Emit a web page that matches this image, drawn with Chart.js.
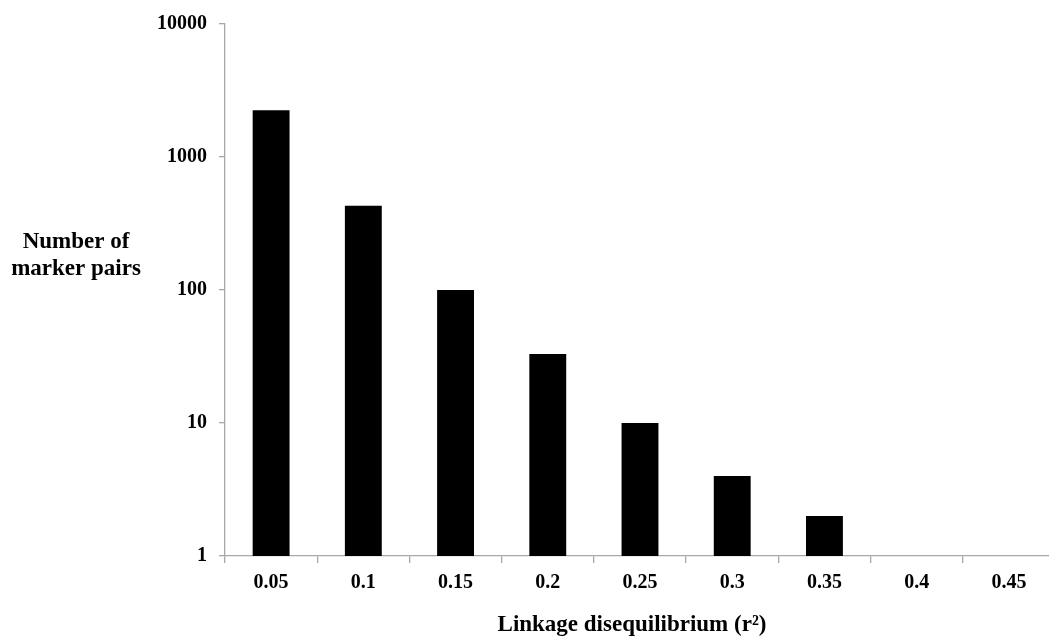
<!DOCTYPE html>
<html>
<head>
<meta charset="utf-8">
<script src="https://cdn.jsdelivr.net/npm/chart.js@4.4.1/dist/chart.umd.min.js"></script>
<style>
  html, body { margin: 0; padding: 0; background: #ffffff; overflow: hidden; }
  #wrap { position: relative; width: 1060px; height: 642px; }
</style>
</head>
<body>
<div id="wrap"><canvas id="chart"></canvas></div>
<script>
// r² bins and the number of marker pairs falling in each bin
const categories = ['0.05', '0.1', '0.15', '0.2', '0.25', '0.3', '0.35', '0.4', '0.45'];
const markerPairs = [2250, 430, 100, 33, 10, 4, 2, null, null];
const yTickValues = [1, 10, 100, 1000, 10000];
const yTitleLines = ['Number of', 'marker pairs'];
const xTitle = 'Linkage disequilibrium (r\u00B2)';

const FONT = '"Liberation Serif", "Times New Roman", serif';
const AXIS_GREY = '#a8a8a8';

// Horizontal y-axis caption on the left and the x-axis caption below
const captions = {
  id: 'captions',
  afterDraw(chart) {
    const ctx = chart.ctx;
    ctx.save();
    ctx.fillStyle = '#000000';
    ctx.font = 'bold 23px ' + FONT;
    ctx.textAlign = 'center';
    ctx.textBaseline = 'alphabetic';
    const yMid = chart.scales.y.getPixelForValue(100);
    ctx.fillText(yTitleLines[0], 76, yMid - 42);
    ctx.fillText(yTitleLines[1], 76, yMid - 15);
    ctx.fillText(xTitle, 632, 631);
    ctx.restore();
  }
};

new Chart(document.getElementById('chart'), {
  type: 'bar',
  data: {
    labels: categories,
    datasets: [{
      data: markerPairs,
      backgroundColor: '#000000',
      borderColor: '#000000',
      borderWidth: 0,
      barPercentage: 0.4,
      categoryPercentage: 1.0
    }]
  },
  options: {
    responsive: true,
    maintainAspectRatio: false,
    animation: false,
    events: [],
    layout: { padding: { top: 20, right: 5, left: 0, bottom: 0 } },
    plugins: {
      legend: { display: false },
      tooltip: { enabled: false },
      title: { display: false }
    },
    scales: {
      x: {
        offset: true,
        grid: {
          display: true,
          offset: true,
          drawOnChartArea: false,
          drawTicks: true,
          tickLength: 7,
          color: AXIS_GREY,
          lineWidth: 1.3
        },
        border: { display: true, color: AXIS_GREY, width: 1.3 },
        ticks: {
          color: '#000000',
          padding: 8,
          maxRotation: 0,
          font: { family: FONT, size: 20, weight: 'bold' }
        },
        afterFit(scale) { scale.height = 86; }
      },
      y: {
        type: 'logarithmic',
        min: 1,
        max: 10000,
        grid: {
          display: true,
          drawOnChartArea: false,
          drawTicks: true,
          tickLength: 6,
          color: AXIS_GREY,
          lineWidth: 1.3
        },
        border: { display: true, color: AXIS_GREY, width: 1.3 },
        afterBuildTicks(scale) {
          scale.ticks = yTickValues.map(v => ({ value: v }));
        },
        ticks: {
          color: '#000000',
          padding: 12,
          font: { family: FONT, size: 20, weight: 'bold' },
          callback: (v) => String(v)
        },
        afterFit(scale) { scale.width = 225; }
      }
    }
  },
  plugins: [captions]
});
</script>
</body>
</html>
